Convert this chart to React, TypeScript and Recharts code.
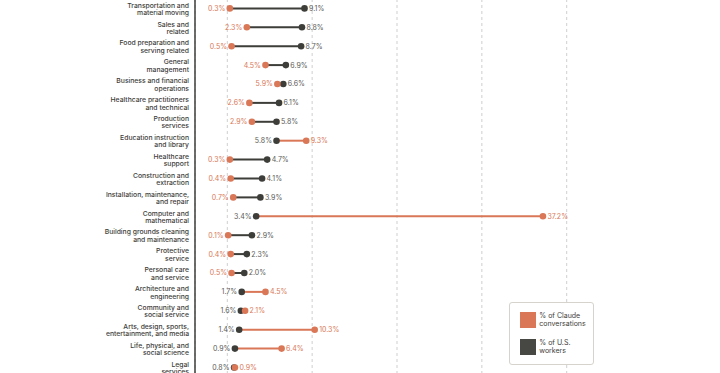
import React from "react";
import { ComposedChart, Bar, XAxis, YAxis, CartesianGrid, Legend } from "recharts";

const categories = [
  "Transportation and\nmaterial moving",
  "Sales and\nrelated",
  "Food preparation and\nserving related",
  "General\nmanagement",
  "Business and financial\noperations",
  "Healthcare practitioners\nand technical",
  "Production\nservices",
  "Education instruction\nand library",
  "Healthcare\nsupport",
  "Construction and\nextraction",
  "Installation, maintenance,\nand repair",
  "Computer and\nmathematical",
  "Building grounds cleaning\nand maintenance",
  "Protective\nservice",
  "Personal care\nand service",
  "Architecture and\nengineering",
  "Community and\nsocial service",
  "Arts, design, sports,\nentertainment, and media",
  "Life, physical, and\nsocial science",
  "Legal\nservices",
];

const claudeShare = [0.3, 2.3, 0.5, 4.5, 5.9, 2.6, 2.9, 9.3, 0.3, 0.4, 0.7, 37.2, 0.1, 0.4, 0.5, 4.5, 2.1, 10.3, 6.4, 0.9];
const workerShare = [9.1, 8.8, 8.7, 6.9, 6.6, 6.1, 5.8, 5.8, 4.7, 4.1, 3.9, 3.4, 2.9, 2.3, 2.0, 1.7, 1.6, 1.4, 0.9, 0.8];
const xTicks = [0, 10, 20, 30, 40];

const ORANGE = "#d97757";
const DARK = "#3d3d3a";
const FONT = "Inter, 'Noto Sans', sans-serif";

const data = categories.map((name, i) => ({
  name,
  claude: claudeShare[i],
  workers: workerShare[i],
  range: [Math.min(claudeShare[i], workerShare[i]), Math.max(claudeShare[i], workerShare[i])],
}));

const DumbbellShape = (props: any) => {
  const { x, y, width, height, payload } = props;
  const cy = y + height / 2;
  const left = x;
  const right = x + width;
  const claudeLarger = payload.claude > payload.workers;
  const claudeX = claudeLarger ? right : left;
  const workersX = claudeLarger ? left : right;
  const lineColor = claudeLarger ? ORANGE : DARK;
  const leftColor = claudeLarger ? "#5a5a56" : ORANGE;
  const rightColor = claudeLarger ? ORANGE : "#5a5a56";
  const leftVal = claudeLarger ? payload.workers : payload.claude;
  const rightVal = claudeLarger ? payload.claude : payload.workers;
  return (
    <g>
      <line x1={left} x2={right} y1={cy} y2={cy} stroke={lineColor} strokeWidth={2} />
      <circle cx={workersX} cy={cy} r={3.3} fill={DARK} />
      <circle cx={claudeX} cy={cy} r={3.3} fill={ORANGE} />
      <text x={left - 4.5} y={cy} dy="0.35em" textAnchor="end" fontSize={7} fontFamily={FONT} fill={leftColor}>
        {leftVal.toFixed(1)}%
      </text>
      <text x={right + 4.5} y={cy} dy="0.35em" textAnchor="start" fontSize={7} fontFamily={FONT} fill={rightColor}>
        {rightVal.toFixed(1)}%
      </text>
    </g>
  );
};

const CategoryTick = (props: any) => {
  const { x, y, payload } = props;
  const lines = String(payload.value).split("\n");
  return (
    <g>
      {lines.map((l, i) => (
        <text
          key={i}
          x={x}
          y={y + (i - (lines.length - 1) / 2) * 7.4 + 0.5}
          dy="0.35em"
          textAnchor="end"
          fontSize={6.8}
          fontWeight={500}
          fontFamily={FONT}
          fill="#3d3d3a"
        >
          {l}
        </text>
      ))}
    </g>
  );
};

const LegendBox = () => (
  <div
    style={{
      width: 83,
      height: 61,
      border: "1px solid #d6d3cc",
      borderRadius: 3,
      background: "#fff",
      fontFamily: FONT,
      fontSize: 7,
      color: "#3d3d3a",
      position: "relative",
      boxSizing: "content-box",
    }}
  >
    <div style={{ position: "absolute", left: 10, top: 9, width: 16, height: 16, background: ORANGE }} />
    <div style={{ position: "absolute", left: 29, top: 9, lineHeight: "8.5px" }}>
      % of Claude
      <br />
      conversations
    </div>
    <div style={{ position: "absolute", left: 10, top: 36, width: 16, height: 16, background: "#474744" }} />
    <div style={{ position: "absolute", left: 29, top: 36, lineHeight: "8.5px" }}>
      % of U.S.
      <br />
      workers
    </div>
  </div>
);

export default function App() {
  return (
    <div style={{ position: "absolute", left: 8, top: -1.44 }}>
      <ComposedChart
        width={704}
        height={378}
        data={data}
        layout="vertical"
        margin={{ top: 0, right: 145.3, bottom: 0, left: 0 }}
        style={{ overflow: "visible" }}
      >
        <CartesianGrid horizontal={false} vertical={true} stroke="#cfcfcf" strokeDasharray="3 3" />
        <XAxis type="number" domain={[0, 40]} ticks={xTicks} hide padding={{ left: 32.3, right: 0 }} />
        <YAxis
          type="category"
          dataKey="name"
          width={187}
          axisLine={{ stroke: "#3d3d3a", strokeWidth: 1.5 }}
          tickLine={false}
          tickSize={0}
          tickMargin={6}
          interval={0}
          tick={<CategoryTick />}
        />
        <Bar dataKey="range" shape={<DumbbellShape />} isAnimationActive={false} />
        <Legend
          layout="vertical"
          align="center"
          verticalAlign="middle"
          content={<LegendBox />}
          wrapperStyle={{ left: 501.3, top: 303.1, width: "auto", height: "auto" }}
        />
      </ComposedChart>
    </div>
  );
}
